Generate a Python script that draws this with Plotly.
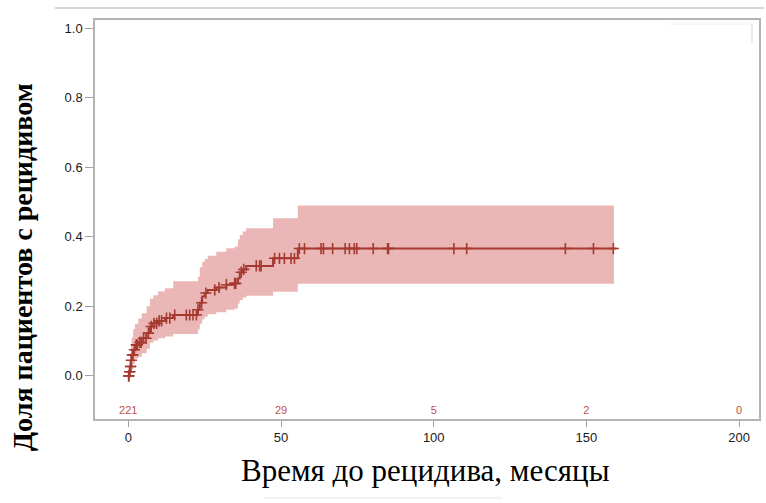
import plotly.graph_objects as go
import numpy as np

# Step times (months) and cumulative incidence of relapse with 95% CI
step_t = [0, 0.3, 0.6, 0.9, 1.1, 1.6, 2.2, 3.3, 4.4, 6.0, 7.1, 8.2, 9.8, 12.0, 14.7,
          22.8, 23.4, 24.2, 25.0, 26.0, 28.8, 32.1, 34.8, 35.9, 36.5, 37.5, 38.6,
          47.4, 55.5]
est = [0, 0.012, 0.027, 0.045, 0.060, 0.075, 0.089, 0.096, 0.108, 0.123, 0.142, 0.151,
       0.158, 0.166, 0.175, 0.190, 0.210, 0.228, 0.238, 0.247, 0.254, 0.262, 0.266,
       0.280, 0.298, 0.306, 0.316, 0.338, 0.366]
upper = [0, 0.035, 0.065, 0.090, 0.110, 0.135, 0.150, 0.165, 0.180, 0.200, 0.222, 0.232,
         0.243, 0.252, 0.272, 0.285, 0.312, 0.328, 0.336, 0.345, 0.357, 0.367, 0.372,
         0.392, 0.405, 0.415, 0.424, 0.453, 0.490]
lower = [0, 0.0, 0.004, 0.010, 0.018, 0.035, 0.050, 0.055, 0.065, 0.078, 0.095, 0.102,
         0.108, 0.113, 0.120, 0.133, 0.150, 0.163, 0.170, 0.177, 0.183, 0.190, 0.194,
         0.208, 0.218, 0.225, 0.230, 0.242, 0.265]
band_end = 159.0
curve_end = 159.8

# Censoring times (months)
censor_t = [0.1, 0.2, 0.4, 0.5, 0.7, 0.8, 1.0, 1.3, 1.5, 2.0, 2.6, 3.0, 3.8, 4.2, 5.0,
            5.8, 6.6, 7.5, 8.4, 9.3, 10.1, 10.9, 12.5, 13.6, 15.2, 19.0, 20.1, 21.2,
            22.3, 22.8, 24.0, 25.4, 28.3, 29.7, 32.1, 34.8, 35.2, 37.0, 37.8, 41.9,
            43.0, 43.5, 47.9, 49.5, 51.1, 53.3, 54.4, 56.0, 57.7, 63.1, 63.9, 66.9,
            71.0, 72.4, 74.0, 74.8, 80.2, 84.9, 85.2, 106.6, 110.8, 143.1, 152.3, 158.8]

# Numbers at risk
risk_t = [0, 50, 100, 150, 200]
risk_n = ["221", "29", "5", "2", "0"]

line_col = "#a63a30"
band_col = "#eab6b6"
risk_col = "#c0504d"

fig = go.Figure()
fig.add_trace(go.Scatter(x=step_t + [band_end], y=lower + [lower[-1]], mode="lines",
                         line=dict(width=0, shape="hv"), showlegend=False, hoverinfo="skip"))
fig.add_trace(go.Scatter(x=step_t + [band_end], y=upper + [upper[-1]], mode="lines",
                         line=dict(width=0, shape="hv"), fill="tonexty", fillcolor=band_col,
                         showlegend=False, hoverinfo="skip"))
fig.add_trace(go.Scatter(x=step_t + [curve_end], y=est + [est[-1]], mode="lines",
                         line=dict(color=line_col, width=2, shape="hv"), showlegend=False))

st = np.array(step_t)
ev = np.array(est)
cy = [float(ev[np.searchsorted(st, t, side="right") - 1]) for t in censor_t]
fig.add_trace(go.Scatter(x=censor_t, y=cy, mode="markers",
                         marker=dict(symbol="cross-thin", size=8,
                                     line=dict(color=line_col, width=1.6)),
                         showlegend=False))

fig.add_trace(go.Scatter(x=risk_t, y=[-0.103] * len(risk_t), mode="text", text=risk_n,
                         textfont=dict(family="Liberation Sans", size=11, color=risk_col),
                         showlegend=False, hoverinfo="skip"))

axis_common = dict(showgrid=False, zeroline=False, showline=True, linecolor="#b4b4b4",
                   linewidth=1.5, mirror=True, ticks="outside", tickcolor="#a0a0a0",
                   tickfont=dict(family="Liberation Sans", size=13, color="#1a1a1a"))
fig.update_xaxes(range=[-10.9, 206.5], tickvals=[0, 50, 100, 150, 200], ticklen=6, **axis_common)
fig.update_yaxes(range=[-0.124, 1.023], tickvals=[0, 0.2, 0.4, 0.6, 0.8, 1.0],
                 tickformat=".1f", ticklen=8, **axis_common)

fig.update_layout(
    width=766, height=503,
    margin=dict(l=95, r=5, t=20, b=84),
    plot_bgcolor="white", paper_bgcolor="white",
    annotations=[
        dict(text="<b>Доля пациентов с рецидивом</b>", xref="paper", yref="paper",
             x=(22 - 95) / 666, y=(419 - 267) / 399, textangle=-90, showarrow=False,
             font=dict(family="Liberation Serif", size=28, color="black"),
             xanchor="center", yanchor="middle"),
        dict(text="Время до рецидива, месяцы", xref="paper", yref="paper",
             x=(426 - 95) / 666, y=(419 - 470) / 399, showarrow=False,
             font=dict(family="Liberation Serif", size=31, color="black"),
             xanchor="center", yanchor="middle"),
    ],
    shapes=[
        dict(type="line", xref="paper", yref="paper", x0=(55 - 95) / 666, x1=(766 - 95) / 666,
             y0=(419 - 8) / 399, y1=(419 - 8) / 399, line=dict(color="#c8c8c8", width=1.5)),
        dict(type="line", xref="paper", yref="paper", x0=(670 - 95) / 666, x1=(754 - 95) / 666,
             y0=(419 - 24) / 399, y1=(419 - 24) / 399, line=dict(color="#f0f0f0", width=1)),
        dict(type="line", xref="paper", yref="paper", x0=(754 - 95) / 666, x1=(754 - 95) / 666,
             y0=(419 - 24) / 399, y1=(419 - 43) / 399, line=dict(color="#d8d8d8", width=1)),
        dict(type="line", xref="paper", yref="paper", x0=(265 - 95) / 666, x1=(503 - 95) / 666,
             y0=(419 - 498) / 399, y1=(419 - 498) / 399, line=dict(color="#eeeeee", width=1.5)),
    ],
)

fig.write_html("out.html")
